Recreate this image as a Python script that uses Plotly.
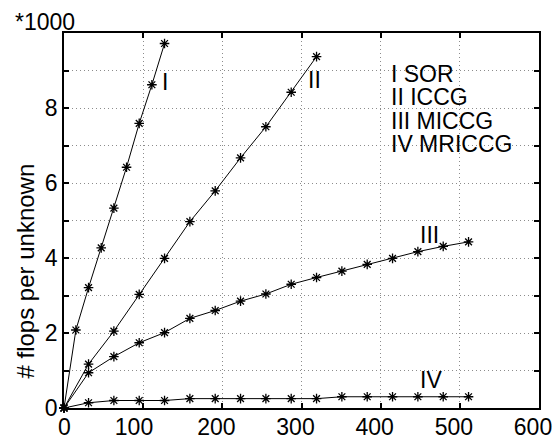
import plotly.graph_objects as go

# values in units of 1000 flops per unknown
x_sor = [0, 15, 31, 47, 63, 79, 95, 111, 127]
y_sor = [0, 2.08, 3.21, 4.27, 5.33, 6.42, 7.59, 8.62, 9.72]

x_iccg = [0, 31, 63, 95, 127, 159, 191, 223, 255, 287, 319]
y_iccg = [0, 1.17, 2.05, 3.03, 3.99, 4.97, 5.79, 6.67, 7.50, 8.42, 9.37]

x_miccg = [0, 31, 63, 95, 127, 159, 191, 223, 255, 287, 319, 351, 383, 415, 447, 479, 511]
y_miccg = [0, 0.94, 1.37, 1.74, 2.01, 2.39, 2.60, 2.85, 3.04, 3.30, 3.48, 3.65, 3.83, 3.99, 4.17, 4.31, 4.43]

x_mriccg = [0, 31, 63, 95, 127, 159, 191, 223, 255, 287, 319, 351, 383, 415, 447, 479, 511]
y_mriccg = [0, 0.14, 0.20, 0.20, 0.20, 0.25, 0.25, 0.25, 0.25, 0.25, 0.25, 0.30, 0.30, 0.30, 0.30, 0.30, 0.30]

series = [(x_sor, y_sor), (x_iccg, y_iccg), (x_miccg, y_miccg), (x_mriccg, y_mriccg)]

curve_labels = ["I", "II", "III", "IV"]
curve_label_x = [128, 317, 462, 464]
curve_label_y = [8.7, 8.76, 4.61, 0.75]

legend_lines = ["I SOR", "II ICCG", "III MICCG", "IV MRICCG"]
legend_x = 411
legend_y = [8.93, 8.30, 7.68, 7.05]

x_ticks = [0, 100, 200, 300, 400, 500, 600]
x_ticktext = ["\u00a0\u00a00", "100\u00a0", "200", "300", "400", "500", "600"]
y_ticks = [0, 1, 2, 3, 4, 5, 6, 7, 8, 9, 10]
y_ticktext = ["0", "", "2", "", "4", "", "6", "", "8", "", ""]

FONT = "Liberation Sans, Arial, sans-serif"

fig = go.Figure()
for xs, ys in series:
    fig.add_trace(go.Scatter(
        x=xs, y=ys, mode="lines+markers",
        line=dict(color="black", width=1),
        marker=dict(symbol="asterisk-open", size=8, color="black",
                    line=dict(color="black", width=1.3)),
        showlegend=False, cliponaxis=False))

for t, xv, yv in zip(curve_labels, curve_label_x, curve_label_y):
    fig.add_annotation(x=xv, y=yv, text=t, showarrow=False,
                       xanchor="center", yanchor="middle",
                       font=dict(family=FONT, size=23, color="black"))

for t, yv in zip(legend_lines, legend_y):
    fig.add_annotation(x=legend_x, y=yv, text=t, showarrow=False,
                       xanchor="left", yanchor="middle", height=21,
                       font=dict(family=FONT, size=23, color="black"))

fig.add_annotation(xref="paper", yref="paper", x=-0.039, y=1.03,
                   text="*1000", showarrow=False, xanchor="center",
                   yanchor="middle", font=dict(family=FONT, size=23, color="black"))

fig.add_annotation(xref="paper", yref="y", x=-0.082, y=3.64,
                   text="# flops per unknown", showarrow=False, textangle=-90,
                   xanchor="center", yanchor="middle",
                   font=dict(family=FONT, size=24, color="black"))

axis_common = dict(
    showline=True, linecolor="black", linewidth=1.8, mirror="allticks",
    ticks="inside", ticklen=5, tickcolor="black", tickwidth=1.5,
    showgrid=True, gridcolor="#8c8c8c", griddash="1px,3px", gridwidth=1,
    zeroline=False, automargin=False, ticklabeloverflow="allow",
    tickfont=dict(family=FONT, size=23, color="black"),
)

fig.update_xaxes(range=[0, 600], tickvals=x_ticks, ticktext=x_ticktext,
                 ticklabelshift=-6, ticklabelstandoff=-3, **axis_common)
fig.update_yaxes(range=[0, 10], tickvals=y_ticks, ticktext=y_ticktext, **axis_common)

fig.update_layout(
    width=555, height=437,
    margin=dict(l=64, r=16, t=33, b=29),
    paper_bgcolor="white", plot_bgcolor="white",
    font=dict(family=FONT, color="black"),
)

fig.write_html("out.html", config={"displayModeBar": False},
               post_script="document.body.style.margin='0';document.body.style.overflow='hidden';")
